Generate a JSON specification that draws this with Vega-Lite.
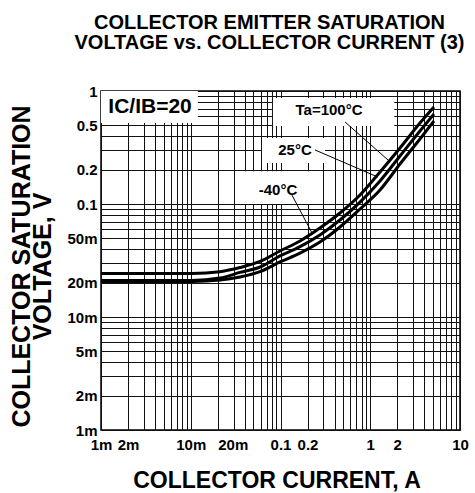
{
  "$schema": "https://vega.github.io/schema/vega-lite/v6.json",
  "width": 359,
  "height": 339,
  "autosize": {"type": "none"},
  "padding": {"left": 101, "top": 91, "right": 15, "bottom": 63},
  "background": "white",
  "title": {
    "text": ["COLLECTOR EMITTER SATURATION", "VOLTAGE vs. COLLECTOR CURRENT (3)"],
    "font": "Liberation Sans",
    "fontSize": 20,
    "fontWeight": "bold",
    "lineHeight": 20.5,
    "color": "#000",
    "anchor": "middle",
    "dx": -11,
    "offset": 31
  },
  "config": {
    "view": {"stroke": "#000", "strokeWidth": 1.5},
    "axis": {
      "domain": false,
      "ticks": false,
      "grid": true,
      "gridColor": "#111",
      "gridWidth": 1,
      "gridOpacity": 1,
      "labelFont": "Liberation Sans",
      "labelFontWeight": "bold",
      "labelFontSize": 15,
      "labelColor": "#000",
      "labelOverlap": false,
      "labelFlush": false,
      "titleFont": "Liberation Sans",
      "titleFontWeight": "bold",
      "titleColor": "#000"
    }
  },
  "datasets": {
    "curves": [
      {"I": 0.001, "V": 0.0243, "Ta": "100"},
      {"I": 0.00352, "V": 0.0243, "Ta": "100"},
      {"I": 0.0103, "V": 0.0243, "Ta": "100"},
      {"I": 0.0212, "V": 0.0252, "Ta": "100"},
      {"I": 0.0354, "V": 0.0274, "Ta": "100"},
      {"I": 0.0591, "V": 0.0310, "Ta": "100"},
      {"I": 0.0987, "V": 0.0384, "Ta": "100"},
      {"I": 0.165, "V": 0.0471, "Ta": "100"},
      {"I": 0.275, "V": 0.0613, "Ta": "100"},
      {"I": 0.46, "V": 0.0832, "Ta": "100"},
      {"I": 0.769, "V": 0.120, "Ta": "100"},
      {"I": 1.285, "V": 0.192, "Ta": "100"},
      {"I": 2.145, "V": 0.313, "Ta": "100"},
      {"I": 3.58, "V": 0.521, "Ta": "100"},
      {"I": 5.13, "V": 0.722, "Ta": "100"},
      {"I": 0.001, "V": 0.0210, "Ta": "25"},
      {"I": 0.00352, "V": 0.0210, "Ta": "25"},
      {"I": 0.0103, "V": 0.0210, "Ta": "25"},
      {"I": 0.0212, "V": 0.0221, "Ta": "25"},
      {"I": 0.0354, "V": 0.0248, "Ta": "25"},
      {"I": 0.0591, "V": 0.0277, "Ta": "25"},
      {"I": 0.0987, "V": 0.0347, "Ta": "25"},
      {"I": 0.165, "V": 0.0419, "Ta": "25"},
      {"I": 0.275, "V": 0.0532, "Ta": "25"},
      {"I": 0.46, "V": 0.0722, "Ta": "25"},
      {"I": 0.769, "V": 0.104, "Ta": "25"},
      {"I": 1.285, "V": 0.160, "Ta": "25"},
      {"I": 2.145, "V": 0.266, "Ta": "25"},
      {"I": 3.58, "V": 0.443, "Ta": "25"},
      {"I": 5.13, "V": 0.626, "Ta": "25"},
      {"I": 0.001, "V": 0.0206, "Ta": "-40"},
      {"I": 0.00352, "V": 0.0206, "Ta": "-40"},
      {"I": 0.0103, "V": 0.0206, "Ta": "-40"},
      {"I": 0.0212, "V": 0.0212, "Ta": "-40"},
      {"I": 0.0354, "V": 0.0226, "Ta": "-40"},
      {"I": 0.0591, "V": 0.0252, "Ta": "-40"},
      {"I": 0.0987, "V": 0.0307, "Ta": "-40"},
      {"I": 0.165, "V": 0.0368, "Ta": "-40"},
      {"I": 0.275, "V": 0.0461, "Ta": "-40"},
      {"I": 0.46, "V": 0.0626, "Ta": "-40"},
      {"I": 0.769, "V": 0.0903, "Ta": "-40"},
      {"I": 1.285, "V": 0.133, "Ta": "-40"},
      {"I": 2.145, "V": 0.226, "Ta": "-40"},
      {"I": 3.58, "V": 0.376, "Ta": "-40"},
      {"I": 5.13, "V": 0.543, "Ta": "-40"}
    ],
    "boxes": [
      {"I": 0.001, "I2": 0.012, "V": 0.52, "V2": 1},
      {"I": 0.0824, "I2": 1.85, "V": 0.49, "V2": 0.867},
      {"I": 0.0622, "I2": 0.313, "V": 0.231, "V2": 0.384},
      {"I": 0.0382, "I2": 0.262, "V": 0.100, "V2": 0.195}
    ],
    "leaders": [
      {"I": 0.524, "I2": 1.578, "V": 0.532, "V2": 0.245},
      {"I": 0.242, "I2": 1.219, "V": 0.301, "V2": 0.173},
      {"I": 0.134, "I2": 0.2245, "V": 0.120, "V2": 0.0554}
    ],
    "labels": [
      {"I": 0.00352, "V": 0.722, "label": "IC/IB=20", "size": "big"},
      {"I": 0.347, "V": 0.679, "label": "Ta=100°C", "size": "small"},
      {"I": 0.145, "V": 0.301, "label": "25°C", "size": "small"},
      {"I": 0.0938, "V": 0.133, "label": "-40°C", "size": "small"}
    ]
  },
  "encoding": {
    "x": {
      "field": "I",
      "type": "quantitative",
      "scale": {"type": "log", "domain": [0.001, 10], "nice": false},
      "axis": {
        "values": [0.001, 0.002, 0.003, 0.004, 0.005, 0.006, 0.007, 0.008, 0.009, 0.01, 0.02, 0.03, 0.04, 0.05, 0.06, 0.07, 0.08, 0.09, 0.1, 0.2, 0.3, 0.4, 0.5, 0.6, 0.7, 0.8, 0.9, 1, 2, 3, 4, 5, 6, 7, 8, 9, 10],
        "labelExpr": "datum.value==0.001?'1m':datum.value==0.002?'2m':datum.value==0.01?'10m':datum.value==0.02?'20m':datum.value==0.1?'0.1':datum.value==0.2?'0.2':datum.value==1?'1':datum.value==2?'2':datum.value==10?'10':''",
        "labelAlign": {"condition": {"test": "datum.value==0.02", "value": "left"}, "value": "center"},
        "labelPadding": 7,
        "title": "COLLECTOR CURRENT, A",
        "titleFontSize": 23,
        "titleX": 175.5,
        "titleY": 57,
        "titleBaseline": "alphabetic",
        "titleAlign": "center"
      }
    },
    "y": {
      "field": "V",
      "type": "quantitative",
      "scale": {"type": "log", "domain": [0.001, 1], "nice": false},
      "axis": {
        "values": [0.001, 0.002, 0.003, 0.004, 0.005, 0.006, 0.007, 0.008, 0.009, 0.01, 0.02, 0.03, 0.04, 0.05, 0.06, 0.07, 0.08, 0.09, 0.1, 0.2, 0.3, 0.4, 0.5, 0.6, 0.7, 0.8, 0.9, 1],
        "labelExpr": "datum.value==0.001?'1m':datum.value==0.002?'2m':datum.value==0.005?'5m':datum.value==0.01?'10m':datum.value==0.02?'20m':datum.value==0.05?'50m':datum.value==0.1?'0.1':datum.value==0.2?'0.2':datum.value==0.5?'0.5':datum.value==1?'1':''",
        "labelPadding": 4,
        "title": ["COLLECTOR SATURATION", "VOLTAGE, V"],
        "titleFontSize": 25,
        "titleLineHeight": 21,
        "titleAngle": -90,
        "titleX": -80,
        "titleY": 175,
        "titleBaseline": "middle",
        "titleAlign": "center"
      }
    }
  },
  "layer": [
    {
      "data": {"name": "boxes"},
      "mark": {"type": "rect", "fill": "white", "stroke": null},
      "encoding": {"x2": {"field": "I2"}, "y2": {"field": "V2"}}
    },
    {
      "data": {"name": "leaders"},
      "mark": {"type": "rule", "color": "#000", "strokeWidth": 1},
      "encoding": {"x2": {"field": "I2"}, "y2": {"field": "V2"}}
    },
    {
      "data": {"name": "curves"},
      "mark": {"type": "line", "color": "#000", "strokeWidth": 3, "interpolate": "monotone", "clip": true},
      "encoding": {"detail": {"field": "Ta", "type": "nominal"}}
    },
    {
      "data": {"name": "labels"},
      "mark": {"type": "text", "font": "Liberation Sans", "fontWeight": "bold", "color": "#000", "align": "center", "baseline": "middle"},
      "encoding": {
        "text": {"field": "label"},
        "size": {"field": "size", "type": "nominal", "scale": {"domain": ["big", "small"], "range": [21, 15]}, "legend": null}
      }
    }
  ]
}
